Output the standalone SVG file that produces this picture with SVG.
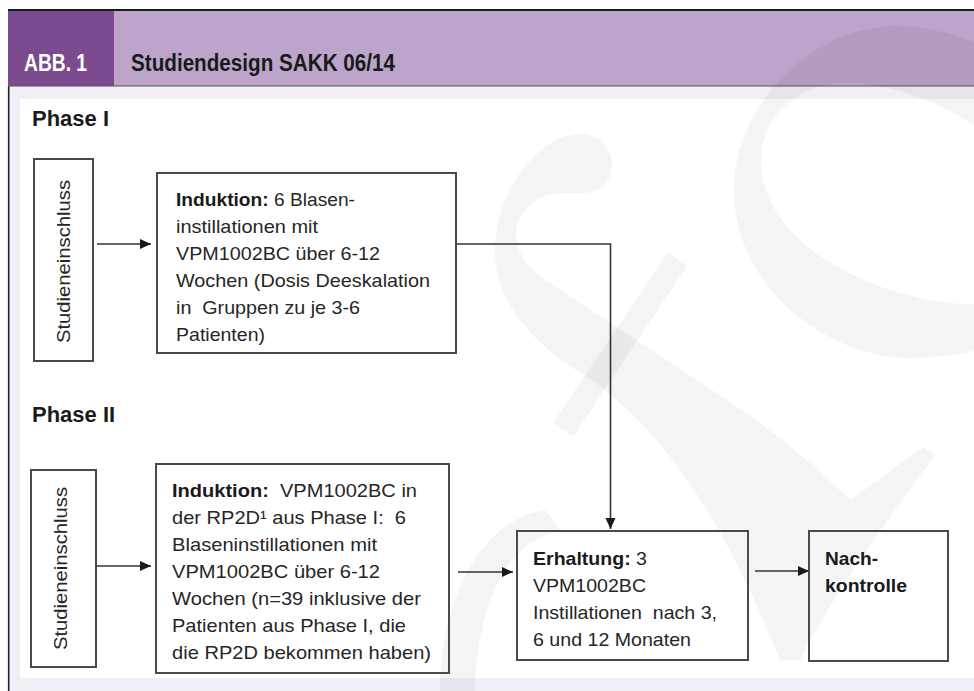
<svg xmlns="http://www.w3.org/2000/svg" width="974" height="691" viewBox="0 0 974 691">
<defs>
<style>
.t{font-family:"Liberation Sans",Arial,sans-serif;font-size:19px;fill:#262626}
.b{font-weight:bold;fill:#1a1a1a}
.ph{font-family:"Liberation Sans",Arial,sans-serif;font-size:22px;font-weight:bold;fill:#1a1a1a}
.hd{font-family:"Liberation Sans",Arial,sans-serif;font-size:23px;font-weight:bold}
.box{fill:none;stroke:#4a4a4a;stroke-width:2}
.ln{fill:none;stroke:#333;stroke-width:1.6}
.wm{fill:#000;fill-opacity:0.045}
</style>
<marker id="ah" markerUnits="userSpaceOnUse" markerWidth="12" markerHeight="12" refX="11" refY="5" orient="auto">
<path d="M0,0 L11,5 L0,10 z" fill="#1a1a1a"/>
</marker>
</defs>

<!-- background -->
<rect x="0" y="0" width="974" height="691" fill="#fff"/>
<rect x="8" y="86" width="966" height="605" fill="#f1eef6"/>
<rect x="20" y="99" width="954" height="579" fill="#fff"/>
<line x1="8.7" y1="86" x2="8.7" y2="691" stroke="#222" stroke-width="1.6"/>

<!-- header -->
<g id="header">
<rect x="8" y="10" width="966" height="76" fill="#bda4ca"/>
<rect x="8" y="10" width="106" height="76" fill="#7c4a8f"/>
<line x1="8" y1="10" x2="974" y2="10" stroke="#1a1a1a" stroke-width="1.8"/>
<line x1="8" y1="86" x2="974" y2="86" stroke="#555" stroke-width="1.2"/>
<text class="hd" x="24" y="71" fill="#fff" textLength="63" lengthAdjust="spacingAndGlyphs">ABB. 1</text>
<text class="hd" x="131" y="71" fill="#1a1a1a" textLength="264" lengthAdjust="spacingAndGlyphs">Studiendesign SAKK 06/14</text>
</g>

<!-- watermark -->
<g id="watermark">
<path class="wm" d="M974,42 C945,30 915,25 890,26 C805,30 734,110 734,190 C734,290 830,358 910,358 C935,358 955,355 974,351 L974,304 C960,304 940,303 920,298 C830,278 761,225 761,160 C761,115 800,83 845,83 C890,83 935,100 974,125 Z"/>
<path class="wm" d="M580,134 C600,134 612,150 612,165 C612,182 600,192 585,193 L560,193 C535,193 516,215 516,233 C516,255 530,270 550,283 L727,400 C780,436 820,470 850,500 L923,447 L935,455 C880,530 830,600 800,660 L780,660 C740,560 680,440 587,377 C560,360 495,320 495,250 C495,190 540,134 580,134 Z"/>
<path class="wm" d="M668,252 L687,266 L573,437 L553,423 Z"/>
<path class="wm" d="M440,691 C440,600 480,520 545,510 L560,530 C500,545 478,610 475,691 Z"/>
</g>

<!-- labels -->
<text class="ph" x="32" y="126">Phase I</text>
<text class="ph" x="32" y="422">Phase II</text>

<!-- connectors -->
<g id="connectors">
<line class="ln" x1="97" y1="244" x2="151" y2="244" marker-end="url(#ah)"/>
<line class="ln" x1="97" y1="566" x2="151" y2="566" marker-end="url(#ah)"/>
<polyline class="ln" points="456,244 610.5,244 610.5,529" marker-end="url(#ah)"/>
<line class="ln" x1="458" y1="572" x2="513" y2="572" marker-end="url(#ah)"/>
<line class="ln" x1="755" y1="571" x2="809" y2="571" marker-end="url(#ah)"/>
</g>

<!-- nodes -->
<g id="n-studie1">
<rect class="box" x="34" y="159" width="59" height="202"/>
<text class="t" transform="translate(70,261.5) rotate(-90)" text-anchor="middle" textLength="163" lengthAdjust="spacingAndGlyphs">Studieneinschluss</text>
</g>

<g id="n-induktion1">
<rect class="box" x="157" y="173" width="299" height="180"/>
<text class="t" x="176" y="206" textLength="179" lengthAdjust="spacingAndGlyphs"><tspan class="b">Induktion:</tspan> 6 Blasen-</text>
<text class="t" x="176" y="233" textLength="142" lengthAdjust="spacingAndGlyphs">instillationen mit</text>
<text class="t" x="176" y="260" textLength="204" lengthAdjust="spacingAndGlyphs">VPM1002BC über 6-12</text>
<text class="t" x="176" y="287" textLength="254" lengthAdjust="spacingAndGlyphs">Wochen (Dosis Deeskalation</text>
<text class="t" x="176" y="314" textLength="184" lengthAdjust="spacingAndGlyphs" xml:space="preserve">in  Gruppen zu je 3-6</text>
<text class="t" x="176" y="341" textLength="89" lengthAdjust="spacingAndGlyphs">Patienten)</text>
</g>

<g id="n-studie2">
<rect class="box" x="31" y="470" width="65" height="197"/>
<text class="t" transform="translate(67,568.5) rotate(-90)" text-anchor="middle" textLength="163" lengthAdjust="spacingAndGlyphs">Studieneinschluss</text>
</g>

<g id="n-induktion2">
<rect class="box" x="156" y="464" width="293" height="209"/>
<text class="t" x="172" y="497" textLength="245" lengthAdjust="spacingAndGlyphs" xml:space="preserve"><tspan class="b">Induktion:</tspan>  VPM1002BC in</text>
<text class="t" x="172" y="524" textLength="234" lengthAdjust="spacingAndGlyphs" xml:space="preserve">der RP2D¹ aus Phase I:  6</text>
<text class="t" x="172" y="551" textLength="205" lengthAdjust="spacingAndGlyphs">Blaseninstillationen mit</text>
<text class="t" x="172" y="578" textLength="208" lengthAdjust="spacingAndGlyphs">VPM1002BC über 6-12</text>
<text class="t" x="172" y="605" textLength="249" lengthAdjust="spacingAndGlyphs">Wochen (n=39 inklusive der</text>
<text class="t" x="172" y="632" textLength="234" lengthAdjust="spacingAndGlyphs">Patienten aus Phase I, die</text>
<text class="t" x="172" y="659" textLength="259" lengthAdjust="spacingAndGlyphs">die RP2D bekommen haben)</text>
</g>

<g id="n-erhaltung">
<rect class="box" x="517" y="531" width="231" height="129"/>
<text class="t" x="533" y="565" textLength="114" lengthAdjust="spacingAndGlyphs"><tspan class="b">Erhaltung:</tspan> 3</text>
<text class="t" x="533" y="592" textLength="113" lengthAdjust="spacingAndGlyphs">VPM1002BC</text>
<text class="t" x="533" y="619" textLength="184" lengthAdjust="spacingAndGlyphs" xml:space="preserve">Instillationen  nach 3,</text>
<text class="t" x="533" y="646" textLength="158" lengthAdjust="spacingAndGlyphs">6 und 12 Monaten</text>
</g>

<g id="n-nachkontrolle">
<rect class="box" x="809" y="531" width="139" height="130"/>
<text class="t b" x="825" y="565" textLength="53" lengthAdjust="spacingAndGlyphs">Nach-</text>
<text class="t b" x="825" y="592" textLength="82" lengthAdjust="spacingAndGlyphs">kontrolle</text>
</g>
</svg>
